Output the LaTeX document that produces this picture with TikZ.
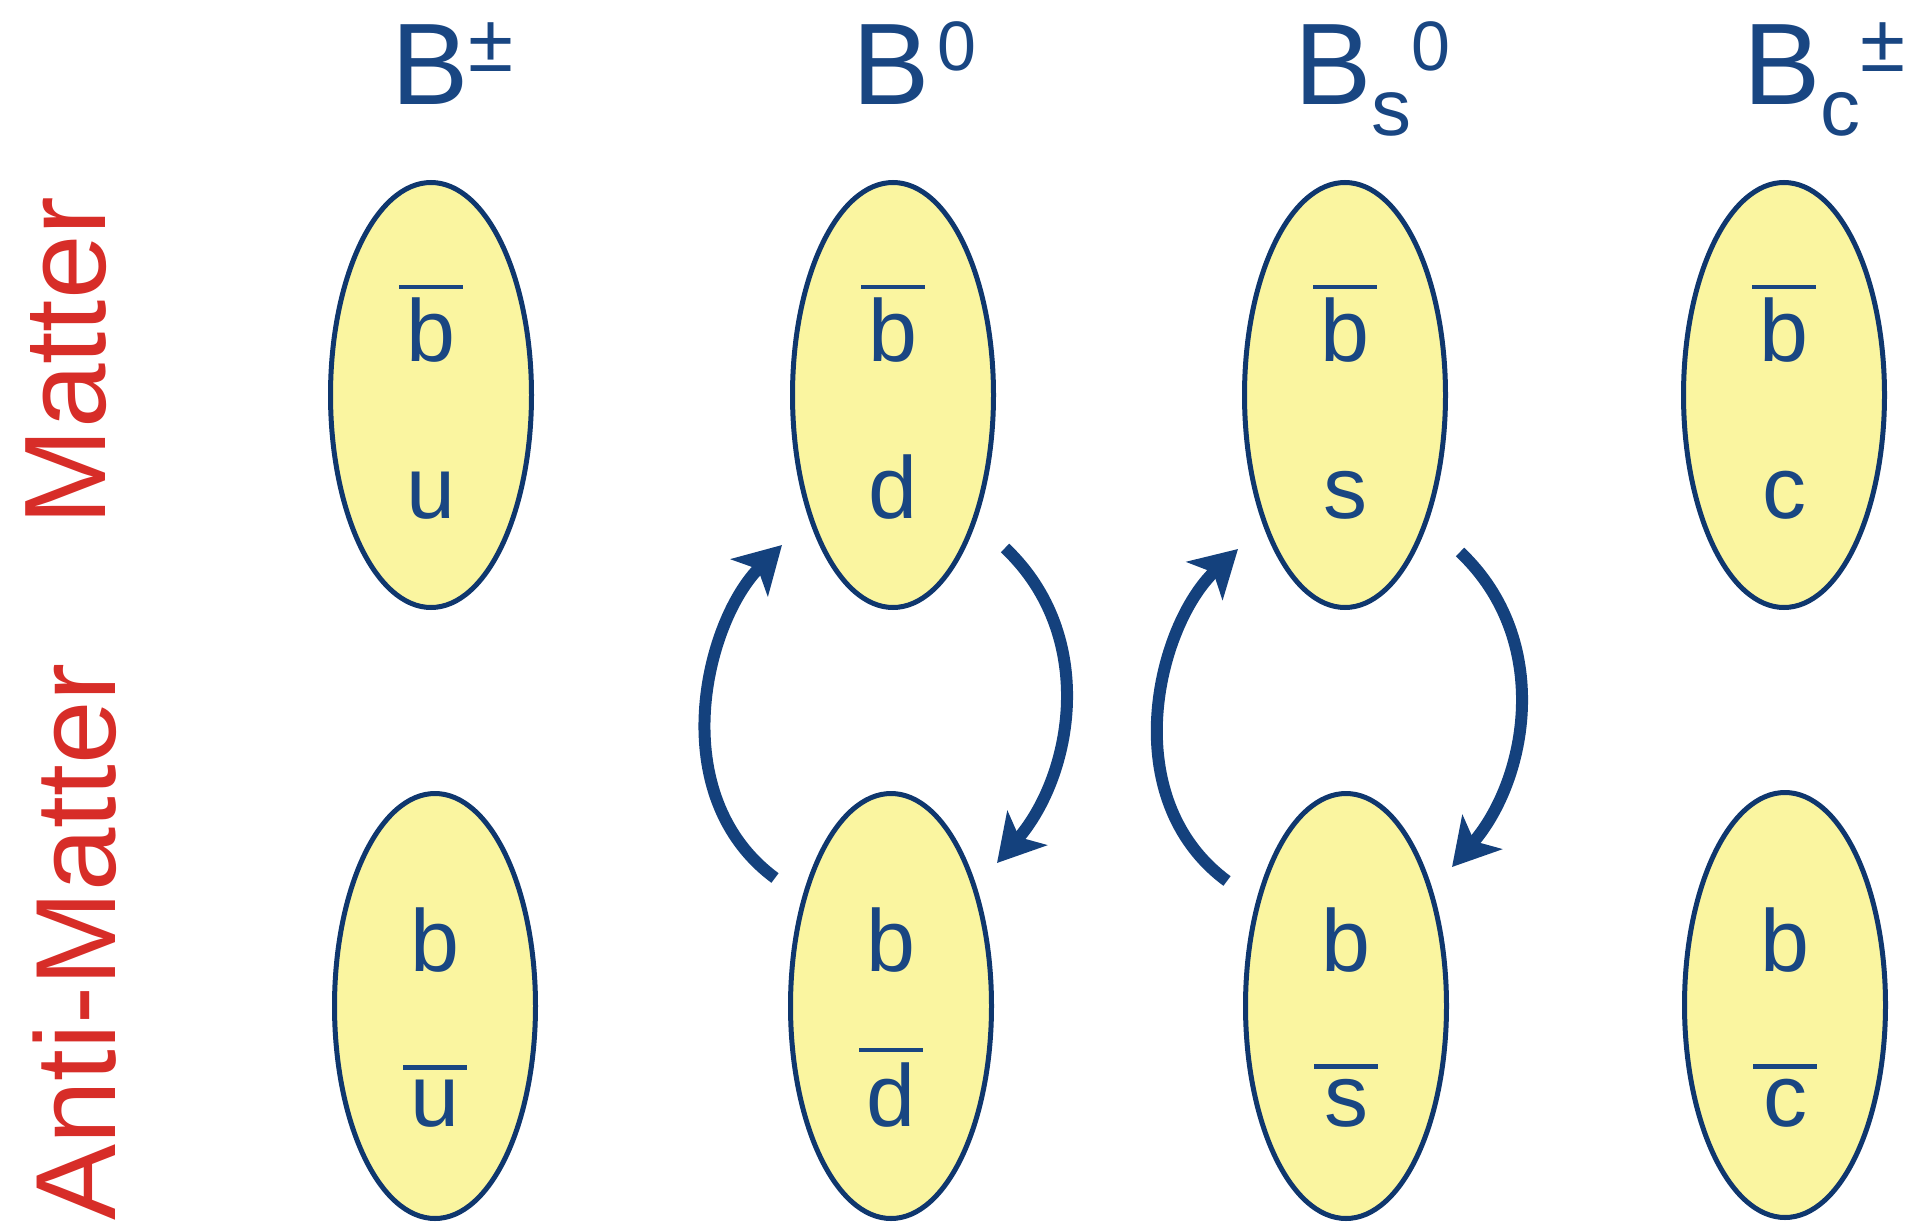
\documentclass[tikz,border=0pt]{standalone}
\usepackage{fontspec}
\setmainfont{Liberation Sans}
\usetikzlibrary{shapes.geometric,arrows.meta,calc}
\definecolor{txtblue}{RGB}{25,70,130}
\definecolor{edgeblue}{RGB}{15,55,110}
\definecolor{arrblue}{RGB}{20,65,125}
\definecolor{fillyel}{RGB}{250,245,160}
\definecolor{lblred}{RGB}{215,45,40}
\newcommand\hsup[1]{\raisebox{34pt}{\fontsize{70}{70}\selectfont #1}}
\newcommand\hpm{\raisebox{33pt}{\fontsize{82}{82}\selectfont ±}}
\newcommand\hsub[1]{\raisebox{-31pt}{\fontsize{80}{80}\selectfont #1}}
\begin{document}
\begin{tikzpicture}[x=1pt,y=-1pt,
  meson/.style={ellipse, draw=edgeblue, line width=5pt, fill=fillyel, minimum width=201pt, minimum height=425pt, inner sep=0pt},
  quark/.style={text=txtblue, font=\fontsize{88}{88}\selectfont, inner sep=0pt, anchor=base},
  qbar/.style={draw=txtblue, line width=4.5pt},
  head/.style={text=txtblue, font=\fontsize{116}{116}\selectfont, inner sep=0pt, anchor=base west},
  side/.style={text=lblred, font=\fontsize{116}{116}\selectfont, inner sep=0pt, anchor=base, rotate=90},
  osc/.style={draw=arrblue, line width=12pt, -{Stealth[length=46pt,width=52pt,inset=12pt]}}
]
\useasboundingbox (0,0) rectangle (1914,1226);

% side labels
\node[side] (lm) at (105,361) {Matter};
\node[side, font=\fontsize{114}{114}\selectfont] (la) at (115,942) {Anti-Matter};

% headers
\node[head] (h1) at (391,104) {B\hpm};
\node[head] (h2) at (852,104) {B\hspace{8pt}\hsup{0}};
\node[head] (h3) at (1294,104) {B\hsub{s}\hsup{0}};
\node[head] (h4) at (1743,104) {B\hsub{c}\hpm};

% mesons (matter row)
\node[meson] (m1) at (431,395) {};
\node[meson] (m2) at (893,395) {};
\node[meson] (m3) at (1345,395) {};
\node[meson] (m4) at (1784,395) {};
% mesons (anti-matter row)
\node[meson] (a1) at (435,1006) {};
\node[meson] (a2) at (891,1006) {};
\node[meson] (a3) at (1346,1006) {};
\node[meson] (a4) at (1785,1005) {};

% quark content, matter
\node[quark] (m1q1) at (431,361) {b};
\node[quark] (m1q2) at (431,518) {u};
\node[quark] (m2q1) at (893,361) {b};
\node[quark] (m2q2) at (893,518) {d};
\node[quark] (m3q1) at (1345,361) {b};
\node[quark] (m3q2) at (1345,518) {s};
\node[quark] (m4q1) at (1784,361) {b};
\node[quark] (m4q2) at (1784,518) {c};
\foreach \n in {m1q1,m2q1,m3q1,m4q1}
  \draw[qbar] ($(\n.north)+(-32,-10)$) -- ++(64,0);

% quark content, anti-matter
\node[quark] (a1q1) at (435,971) {b};
\node[quark] (a1q2) at (435,1126) {u};
\node[quark] (a2q1) at (891,971) {b};
\node[quark] (a2q2) at (891,1126) {d};
\node[quark] (a3q1) at (1346,971) {b};
\node[quark] (a3q2) at (1346,1126) {s};
\node[quark] (a4q1) at (1785,971) {b};
\node[quark] (a4q2) at (1785,1126) {c};
\foreach \n in {a1q2,a2q2,a3q2,a4q2}
  \draw[qbar] ($(\n.north)+(-32,-12)$) -- ++(64,0);

% oscillation arrows B0 (cx = 893)
\coordinate (L2s) at (775,878);
\coordinate (L2e) at (782,545);
\coordinate (R2s) at (1005,548);
\coordinate (R2e) at (997,863);
\draw[osc] (L2s) .. controls (663,795) and (705,622) .. (L2e);
\draw[osc] (R2s) .. controls (1098,636) and (1073,775) .. (R2e);

% oscillation arrows Bs0 (cx = 1345)
\coordinate (L3s) at (1227,881);
\coordinate (L3e) at (1238,549);
\coordinate (R3s) at (1460,552);
\coordinate (R3e) at (1452,867);
\draw[osc] (L3s) .. controls (1115,798) and (1157,626) .. (L3e);
\draw[osc] (R3s) .. controls (1553,640) and (1528,779) .. (R3e);
\end{tikzpicture}
\end{document}
